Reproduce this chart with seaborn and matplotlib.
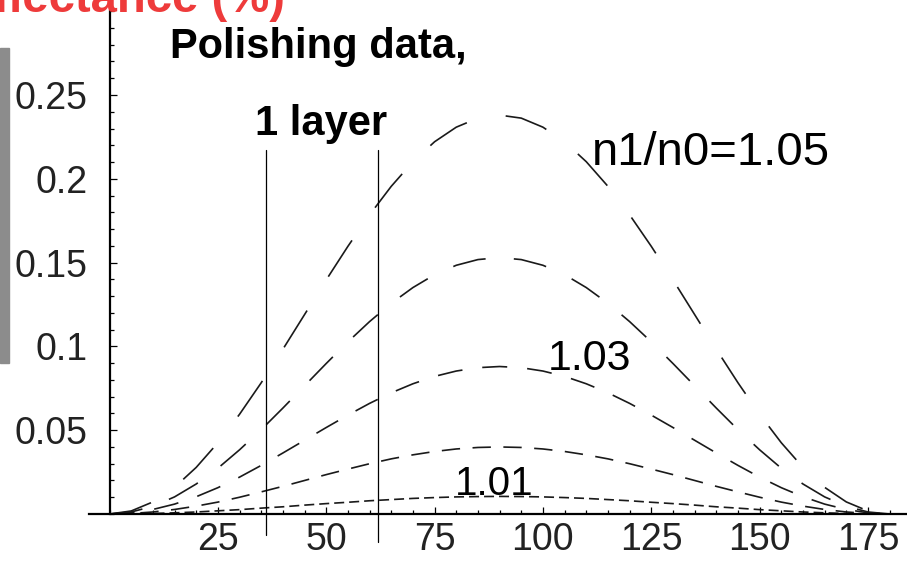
import numpy as np
import pandas as pd
import matplotlib
matplotlib.use("Agg")
import matplotlib.pyplot as plt
import seaborn as sns
from matplotlib.ticker import MultipleLocator
from matplotlib.patches import Rectangle

# angle (deg) and reflectance (%), one list per index ratio
angles = list(range(0, 181, 5))
r105 = [0, 0.0018, 0.0072, 0.0159, 0.0278, 0.0425, 0.0595, 0.0783, 0.0983, 0.1190,
        0.1397, 0.1597, 0.1785, 0.1955, 0.2102, 0.2221, 0.2308, 0.2362, 0.2380,
        0.2362, 0.2308, 0.2221, 0.2102, 0.1955, 0.1785, 0.1597, 0.1397, 0.1190,
        0.0983, 0.0783, 0.0595, 0.0425, 0.0278, 0.0159, 0.0072, 0.0018, 0]
r104 = [0, 0.0012, 0.0046, 0.0102, 0.0179, 0.0273, 0.0383, 0.0503, 0.0632, 0.0765,
        0.0898, 0.1027, 0.1148, 0.1257, 0.1351, 0.1428, 0.1484, 0.1518, 0.1530,
        0.1518, 0.1484, 0.1428, 0.1351, 0.1257, 0.1148, 0.1027, 0.0898, 0.0765,
        0.0632, 0.0503, 0.0383, 0.0273, 0.0179, 0.0102, 0.0046, 0.0012, 0]
r103 = [0, 0.0007, 0.0027, 0.0059, 0.0103, 0.0157, 0.0220, 0.0290, 0.0364, 0.0440,
        0.0516, 0.0590, 0.0660, 0.0723, 0.0777, 0.0821, 0.0853, 0.0873, 0.0880,
        0.0873, 0.0853, 0.0821, 0.0777, 0.0723, 0.0660, 0.0590, 0.0516, 0.0440,
        0.0364, 0.0290, 0.0220, 0.0157, 0.0103, 0.0059, 0.0027, 0.0007, 0]
r102 = [0, 0.0003, 0.0012, 0.0027, 0.0047, 0.0071, 0.0100, 0.0132, 0.0165, 0.0200,
        0.0235, 0.0268, 0.0300, 0.0329, 0.0353, 0.0373, 0.0388, 0.0397, 0.0400,
        0.0397, 0.0388, 0.0373, 0.0353, 0.0329, 0.0300, 0.0268, 0.0235, 0.0200,
        0.0165, 0.0132, 0.0100, 0.0071, 0.0047, 0.0027, 0.0012, 0.0003, 0]
r101 = [0, 0.0001, 0.0003, 0.0007, 0.0012, 0.0019, 0.0026, 0.0035, 0.0043, 0.0053,
        0.0062, 0.0070, 0.0079, 0.0086, 0.0093, 0.0098, 0.0102, 0.0104, 0.0105,
        0.0104, 0.0102, 0.0098, 0.0093, 0.0086, 0.0079, 0.0070, 0.0062, 0.0053,
        0.0043, 0.0035, 0.0026, 0.0019, 0.0012, 0.0007, 0.0003, 0.0001, 0]
ratios = ['1.05', '1.04', '1.03', '1.02', '1.01']

xtick_values = [25, 50, 75, 100, 125, 150, 175]
ytick_values = [0.05, 0.1, 0.15, 0.2, 0.25]
ytick_labels = ['0.05', '0.1', '0.15', '0.2', '0.25']
layer_edges = [36, 62]

W, H = 907, 561

def fx(px):
    return px / W

def fy(py):
    return 1 - py / H

df_all = pd.concat([
    pd.DataFrame({'angle': angles, 'R': vals, 'ratio': [name] * len(angles)})
    for name, vals in zip(ratios, [r105, r104, r103, r102, r101])
], ignore_index=True)

sns.set_theme(style="white")
plt.rcParams['font.family'] = ['Liberation Sans', 'DejaVu Sans']

fig = plt.figure(figsize=(W / 100, H / 100), dpi=100)
ax = fig.add_axes([fx(88.5), fy(514), fx(907) - fx(88.5), fy(11.2) - fy(514)])

dash_styles = {'1.05': (26, 24), '1.04': (20, 17), '1.03': (15, 12),
               '1.02': (11, 7.5), '1.01': (6, 3)}
sns.lineplot(data=df_all, x='angle', y='R', style='ratio', dashes=dash_styles,
             color='#1a1a1a', linewidth=1.2, estimator=None, legend=False, ax=ax)

ax.set_xlim(-4.85, 184)
ax.set_ylim(0, 0.3)
ax.set_xlabel('')
ax.set_ylabel('')
ax.spines['left'].set_position(('data', 0))
ax.spines['top'].set_visible(False)
ax.spines['right'].set_visible(False)
for s in ['left', 'bottom']:
    ax.spines[s].set_linewidth(1.6)
    ax.spines[s].set_color('black')

ax.set_xticks(xtick_values)
ax.set_xticklabels([str(v) for v in xtick_values])
ax.set_yticks(ytick_values)
ax.set_yticklabels(ytick_labels)
ax.xaxis.set_minor_locator(MultipleLocator(5))
ax.yaxis.set_minor_locator(MultipleLocator(0.01))
ax.tick_params(which='major', direction='in', length=5, width=0.9, color='black',
               labelsize=27, labelcolor='#222222')
ax.tick_params(which='minor', direction='in', length=3, width=0.9, color='black')
ax.tick_params(axis='y', which='major', pad=16)
ax.tick_params(axis='x', which='major', pad=6)
ax.tick_params(left=True, bottom=True, which='both')
ax.grid(False)

# "1 layer" markers
for xe, yb in zip(layer_edges, [-0.0125, -0.0167]):
    ax.plot([xe, xe], [yb, 0.217], color='black', linewidth=0.9, clip_on=False)

fig.text(fx(170), fy(58), 'Polishing data,', fontsize=30, fontweight='bold',
         color='black', ha='left', va='baseline')
fig.text(fx(255), fy(135), '1 layer', fontsize=30, fontweight='bold',
         color='black', ha='left', va='baseline')
fig.text(fx(592), fy(165), 'n1/n0=1.05', fontsize=34, color='black',
         ha='left', va='baseline')
fig.text(fx(548), fy(370), '1.03', fontsize=31, color='black',
         ha='left', va='baseline')
fig.text(fx(455), fy(495), '1.01', fontsize=29, color='black',
         ha='left', va='baseline')

fig.text(fx(285), fy(12), 'Reflectance (%)', fontsize=34, fontweight='bold',
         color='#ee3b3b', ha='right', va='baseline')
fig.patches.append(Rectangle((0, fy(363)), fx(8.5), (363 - 48) / H,
                             transform=fig.transFigure, color='#8c8c8c'))

fig.savefig('out.png', dpi=100)
